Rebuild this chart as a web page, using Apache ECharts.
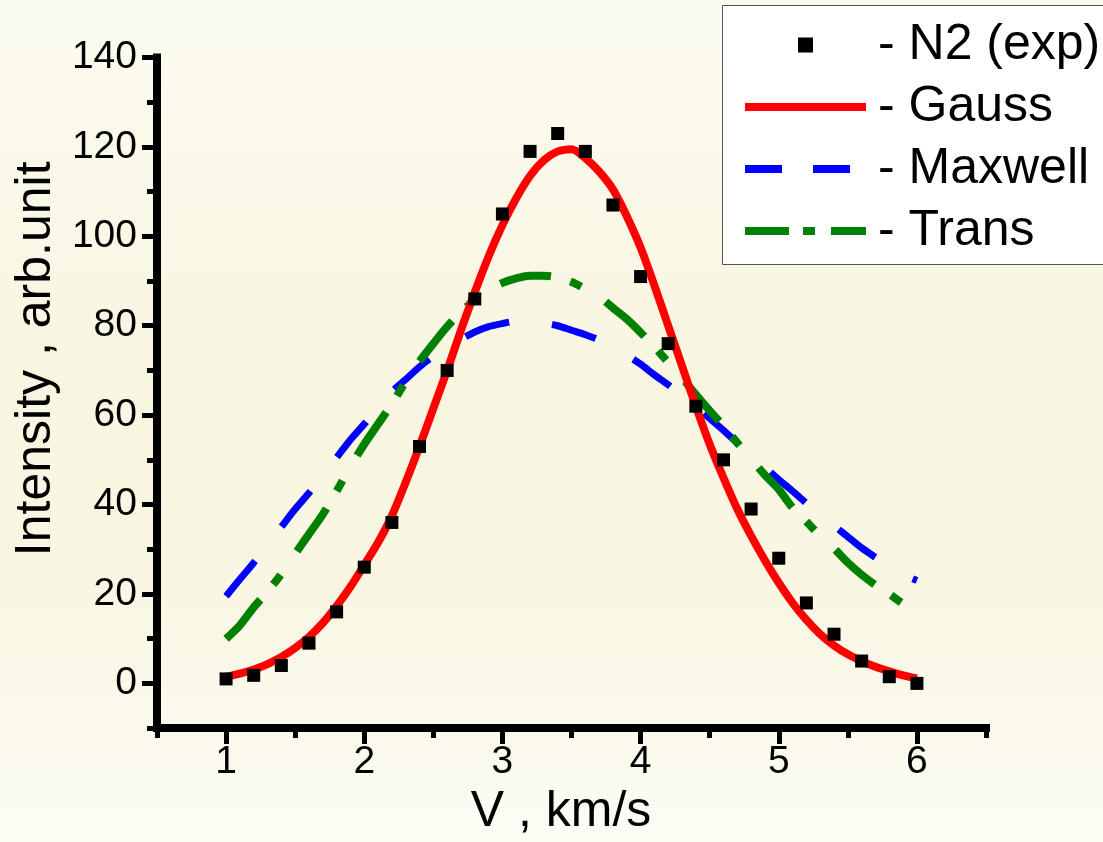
<!DOCTYPE html>
<html>
<head>
<meta charset="utf-8">
<script src="https://cdn.jsdelivr.net/npm/echarts@6/dist/echarts.min.js"></script>
<style>
html,body{margin:0;padding:0;overflow:hidden;}
#chart{width:1103px;height:842px;background:linear-gradient(to bottom,#fcfbf0 0%,#f8f5e0 45%,#f9f6e3 70%,#fdfcf4 100%);}
</style>
</head>
<body>
<div id="chart"></div>
<script>
// ---- data ----
const seriesNames = ['N2 (exp)', 'Gauss', 'Maxwell', 'Trans'];
const xMajorTicks = [1, 2, 3, 4, 5, 6];
const yMajorTicks = [0, 20, 40, 60, 80, 100, 120, 140];

const expX = [1.0,1.2,1.4,1.6,1.8,2.0,2.2,2.4,2.6,2.8,3.0,3.2,3.4,3.6,3.8,4.0,4.2,4.4,4.6,4.8,5.0,5.2,5.4,5.6,5.8,6.0];
const expY = [1,1.8,4,9,16,26,36,53,70,86,105,119,123,119,107,91,76,62,50,39,28,18,11,5,1.5,0];

const curveX = [1.0,1.1,1.2,1.3,1.4,1.5,1.6,1.7,1.8,1.9,2.0,2.1,2.2,2.3,2.4,2.5,2.6,2.7,2.8,2.9,3.0,3.1,3.2,3.3,3.4,3.5,3.6,3.7,3.8,3.9,4.0,4.1,4.2,4.3,4.4,4.5,4.6,4.7,4.8,4.9,5.0,5.1,5.2,5.3,5.4,5.5,5.6,5.7,5.8,5.9,6.0];
const gaussY = [1.5,2.2,3.1,4.3,5.9,7.9,10.4,13.5,17.3,21.6,26.5,31.5,37.5,45,53,61.5,70,79,87.5,95.5,102.5,108.5,113.5,117,119,119.5,117.5,114.5,110.5,104.5,97.5,89,80,71,62,53.5,46,39,33,27.5,22.5,18,14.2,11,8.5,6.5,5,3.7,2.7,1.8,1.1];
const maxwellY = [19.5,23.3,27,31,35,39,42.6,46.5,50.5,54.5,58,62,65.3,68,70.8,73.2,75.2,77,78.6,79.8,80.5,81,81,80.6,80,79,78,76.8,75.2,73.4,71.4,69,66.8,64.4,62,59.3,56.6,53.8,51.1,48.4,45.6,43,40.3,37.8,35.3,32.8,30.3,28.2,26.2,24.4,23];
const transY = [10,13,17,20.5,24.5,29,33.4,37.8,43,48.5,53.5,58,62.5,67.5,72,76,79.8,83,85.8,88,89.6,90.6,91.2,91.2,90.8,89.8,88.2,86.5,84,81.5,78.5,75.3,71.8,68.4,64.6,61,57.6,53.8,50.2,46.6,43.4,39.3,36.2,33,30.2,27,24.3,22,20,17.8,15.8];

const pair = (xs, ys) => xs.map((x, i) => [x, ys[i]]);

const FONT = 'Liberation Sans, Arial, sans-serif';
const chart = echarts.init(document.getElementById('chart'), null, {renderer: 'canvas', width: 1103, height: 842});

const axisLineStyle = {color: '#000', width: 8, cap: 'square'};

chart.setOption({
  backgroundColor: 'transparent',
  animation: false,
  grid: {left: 157, right: 117, top: 57.5, bottom: 112, containLabel: false},
  graphic: [
    {
      type: 'rect', z: 0, silent: true,
      shape: {x: 722.5, y: 5.5, width: 420, height: 259},
      style: {fill: '#ffffff', stroke: null, lineWidth: 0}
    },
    {
      type: 'polyline', z: 1, silent: true,
      shape: {points: [[1150, 5.5], [722.5, 5.5], [722.5, 264.5], [1150, 264.5]]},
      style: {fill: null, stroke: '#555555', lineWidth: 1}
    }
  ],
  legend: {
    orient: 'vertical',
    left: 722,
    top: 5,
    padding: [15, 8, 8, 19],
    itemWidth: 121,
    itemHeight: 15,
    itemGap: 12,
    backgroundColor: 'transparent',
    borderWidth: 0,
    formatter: '- {name}',
    textStyle: {fontFamily: FONT, fontSize: 50, lineHeight: 50, color: '#000', padding: [0, 0, 0, 7]},
    lineStyle: {width: 8},
    selectedMode: false,
    z: 10,
    data: [
      {name: seriesNames[0], icon: 'path://M0,0L10,0L10,10L0,10Z'},
      {name: seriesNames[1], itemStyle: {opacity: 0}, lineStyle: {width: 8, type: 'solid'}},
      {name: seriesNames[2], itemStyle: {opacity: 0}, lineStyle: {width: 8, type: [37, 31]}},
      {name: seriesNames[3], itemStyle: {opacity: 0}, lineStyle: {width: 8, type: [44, 14, 12, 16]}}
    ]
  },
  xAxis: [
    {
      type: 'value', min: 0.5, max: 6.5, interval: 0.5, position: 'bottom',
      axisLine: {show: true, onZero: false, lineStyle: axisLineStyle},
      axisTick: {show: true, inside: false, length: 10, lineStyle: {color: '#000', width: 5}},
      axisLabel: {show: false},
      splitLine: {show: false}
    },
    {
      type: 'value', min: 0.5, max: 6.5, position: 'bottom',
      axisLine: {show: false, onZero: false},
      axisTick: {show: true, inside: false, length: 16, customValues: xMajorTicks, lineStyle: {color: '#000', width: 5}},
      axisLabel: {show: true, customValues: xMajorTicks, margin: 15, fontFamily: FONT, fontSize: 39, color: '#000'},
      splitLine: {show: false},
      name: 'V , km/s', nameLocation: 'middle', nameGap: 54,
      nameTextStyle: {fontFamily: FONT, fontSize: 50, color: '#000', padding: [0, 21, 0, 0]}
    }
  ],
  yAxis: [
    {
      type: 'value', min: -10, max: 140, interval: 10, position: 'left',
      axisLine: {show: true, onZero: false, lineStyle: axisLineStyle},
      axisTick: {show: true, inside: false, length: 10, lineStyle: {color: '#000', width: 5}},
      axisLabel: {show: false},
      splitLine: {show: false}
    },
    {
      type: 'value', min: -10, max: 140, position: 'left',
      axisLine: {show: false, onZero: false},
      axisTick: {show: true, inside: false, length: 15, customValues: yMajorTicks, lineStyle: {color: '#000', width: 5}},
      axisLabel: {show: true, customValues: yMajorTicks, margin: 20, fontFamily: FONT, fontSize: 39, color: '#000'},
      splitLine: {show: false},
      name: 'Intensity , arb.unit', nameLocation: 'middle', nameGap: 96,
      nameTextStyle: {fontFamily: FONT, fontSize: 50, color: '#000', padding: [0, 0, 0, 68]}
    }
  ],
  series: [
    {
      name: seriesNames[0], type: 'scatter', xAxisIndex: 0, yAxisIndex: 0,
      symbol: 'rect', symbolSize: 13, itemStyle: {color: '#000', opacity: 1},
      data: pair(expX, expY), z: 5
    },
    {
      name: seriesNames[1], type: 'line', xAxisIndex: 0, yAxisIndex: 0, smooth: 0.3,
      symbol: 'none', showSymbol: false, itemStyle: {color: '#ff0000'},
      lineStyle: {color: '#ff0000', width: 8, type: 'solid'},
      data: pair(curveX, gaussY), z: 4
    },
    {
      name: seriesNames[2], type: 'line', xAxisIndex: 0, yAxisIndex: 0, smooth: 0.3,
      symbol: 'none', showSymbol: false, itemStyle: {color: '#0000ff'},
      lineStyle: {color: '#0000ff', width: 7, type: [46, 43]},
      data: pair(curveX, maxwellY), z: 3
    },
    {
      name: seriesNames[3], type: 'line', xAxisIndex: 0, yAxisIndex: 0, smooth: 0.3,
      symbol: 'none', showSymbol: false, itemStyle: {color: '#008000'},
      lineStyle: {color: '#008000', width: 8, type: [52, 20, 12, 29]},
      data: pair(curveX, transY), z: 3
    }
  ]
});
</script>
</body>
</html>
